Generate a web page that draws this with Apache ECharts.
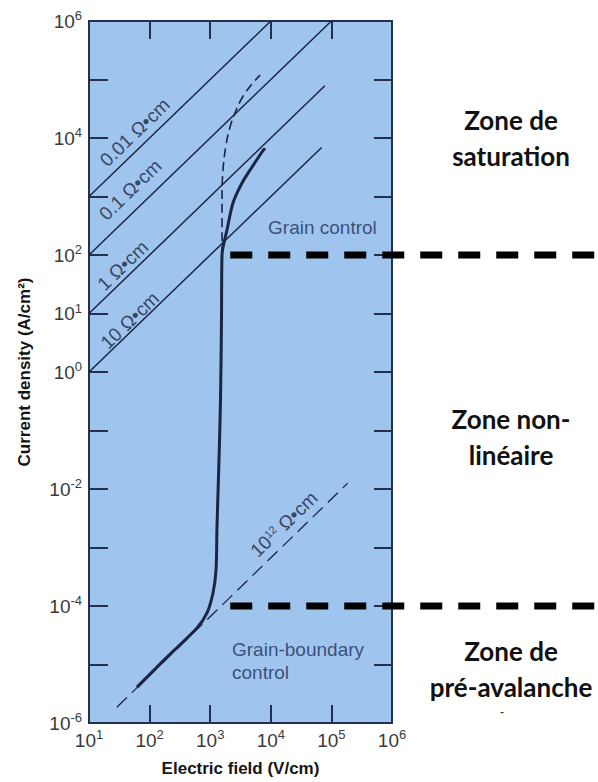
<!DOCTYPE html>
<html>
<head>
<meta charset="utf-8">
<script src="https://cdn.jsdelivr.net/npm/echarts@6/dist/echarts.min.js"></script>
<style>
html,body{margin:0;padding:0;background:#fff;}
#c{width:598px;height:782px;}
</style>
</head>
<body>
<div id="c"></div>
<script>
// ---- tick labels ----
const xLabelExps = [1, 2, 3, 4, 5, 6];
const yLabelExps = [6, 4, 2, 1, 0, -2, -4, -6];

// ---- resistivity lines  [E (V/cm), J (A/cm2)] ----
const rho001 = [[10, 1e3], [1e4, 1e6]];
const rho01 = [[10, 1e2], [1e5, 1e6]];
const rho1 = [[10, 10], [7.8e4, 7.8e4]];
const rho10 = [[10, 1], [6.9e4, 6.9e3]];
const rho1e12 = [[28.8, 1.86e-6], [1.86e5, 1.26e-2]];

// ---- main varistor curve ----
const mainCurve = [
  [62, 4.1e-6], [194, 1.34e-5], [605, 4.2e-5], [885, 7.6e-5], [1112, 1.67e-4],
  [1247, 4.1e-4], [1294, 2.2e-3], [1396, 3.1e-2], [1479, 0.33], [1535, 7.7],
  [1567, 100], [1892, 267], [2377, 774], [3350, 1700], [4900, 3190],
  [7160, 5770], [8020, 6750]
];
// ---- dashed extrapolation ----
const dashedCurve = [
  [1567, 100], [1567, 870], [1626, 2840], [1824, 7590], [2123, 15400],
  [2565, 26700], [3350, 48300], [4900, 83700], [6640, 119000]
];

// ---- zone boundaries (drawn on a wider overlay grid sharing the same scales) ----
const satBoundary = [[2140, 1e2], [2.5e9, 1e2]];
const avBoundary = [[2140, 1e-4], [2.5e9, 1e-4]];

// ---- in-plot labels [E, J, text] ----
const rhoLabels = [
  [57, 1.25e4, '0.01 Ω•cm'],
  [48, 1300, '0.1 Ω•cm'],
  [36, 66, '1 Ω•cm'],
  [47, 7.6, '10 Ω•cm'],
  [16500, 2.5e-3, '10{s|12} Ω•cm']
];
const regionLabels = [
  [9000, 290, 'Grain control'],
  [2290, 1.15e-5, 'Grain-boundary\ncontrol']
];
const zoneTexts = [
  [511, 138, 'Zone de\nsaturation'],
  [511, 437, 'Zone non-\nlinéaire'],
  [511, 669, 'Zone de\npré-avalanche']
];

const INK = '#1b2442';
const AX = '#24304f';
const FONT = 'Liberation Sans, Arial, sans-serif';

function supLabel(v, list) {
  const e = Math.round(Math.log10(v));
  if (list.indexOf(e) < 0) return '';
  return '{b|10}{s|' + e + '}';
}
const tickRich = {
  b: {fontSize: 19, lineHeight: 24, color: '#3a3a3a', fontFamily: FONT},
  s: {fontSize: 13, lineHeight: 13, verticalAlign: 'top', color: '#3a3a3a', fontFamily: FONT}
};

function lineSeries(data, width, dash, extra) {
  return Object.assign({
    type: 'line', data: data, symbol: 'none', silent: true,
    lineStyle: {color: INK, width: width, type: dash || 'solid'},
    z: 3
  }, extra || {});
}
function boundarySeries(data) {
  return {type: 'line', data: data, symbol: 'none', silent: true, z: 5,
    xAxisIndex: 2, yAxisIndex: 2, lineStyle: {color: '#000', width: 7, type: [22, 16]}};
}

const chart = echarts.init(document.getElementById('c'), null, {renderer: 'svg'});
const commonTick = {inside: true, length: 18, lineStyle: {color: AX, width: 2}};
const option = {
  animation: false,
  grid: [
    {left: 89, right: 206, top: 21, bottom: 59, show: true,
      backgroundColor: '#9fc4ee', borderColor: AX, borderWidth: 2},
    {left: 89, right: 0, top: 21, bottom: 59, show: false}
  ],
  xAxis: [
    {type: 'log', logBase: 10, min: 10, max: 1e6, interval: 1, position: 'bottom', gridIndex: 0,
      axisLine: {show: false}, axisTick: commonTick, splitLine: {show: false}, minorTick: {show: false},
      axisLabel: {margin: 5, formatter: v => supLabel(v, xLabelExps), rich: tickRich},
      name: 'Electric field (V/cm)', nameLocation: 'middle', nameGap: 37,
      nameTextStyle: {fontSize: 17, fontWeight: 'bold', color: '#151515', fontFamily: FONT}},
    {type: 'log', logBase: 10, min: 10, max: 1e6, interval: 1, position: 'top', gridIndex: 0,
      axisLine: {show: false}, axisTick: commonTick, splitLine: {show: false},
      axisLabel: {show: false}},
    {type: 'log', logBase: 10, min: 10, max: 2.5e9, gridIndex: 1,
      axisLine: {show: false}, axisTick: {show: false}, axisLabel: {show: false}, splitLine: {show: false}}
  ],
  yAxis: [
    {type: 'log', logBase: 10, min: 1e-6, max: 1e6, interval: 1, position: 'left', gridIndex: 0,
      axisLine: {show: false}, axisTick: Object.assign({}, commonTick, {length: 19}), splitLine: {show: false},
      axisLabel: {margin: 7, formatter: v => supLabel(v, yLabelExps), rich: tickRich},
      name: 'Current density (A/cm²)', nameLocation: 'middle', nameGap: 56, nameRotate: 90,
      nameTextStyle: {fontSize: 17, fontWeight: 'bold', color: '#151515', fontFamily: FONT}},
    {type: 'log', logBase: 10, min: 1e-6, max: 1e6, interval: 1, position: 'right', gridIndex: 0,
      axisLine: {show: false}, axisTick: commonTick, splitLine: {show: false},
      axisLabel: {show: false}},
    {type: 'log', logBase: 10, min: 1e-6, max: 1e6, gridIndex: 1,
      axisLine: {show: false}, axisTick: {show: false}, axisLabel: {show: false}, splitLine: {show: false}}
  ],
  series: [
    lineSeries(rho001, 1.5),
    lineSeries(rho01, 1.5),
    lineSeries(rho1, 1.5),
    lineSeries(rho10, 1.5),
    lineSeries(rho1e12, 1.3, [14, 7]),
    lineSeries(dashedCurve, 1.6, [9, 5], {smooth: 0.4}),
    lineSeries(mainCurve, 3, 'solid', {smooth: 0.3, z: 4}),
    boundarySeries(satBoundary),
    boundarySeries(avBoundary),
    {type: 'scatter', symbolSize: 0, silent: true, z: 6,
      data: rhoLabels.map(d => ({value: [d[0], d[1]], name: d[2]})),
      label: {show: true, position: 'inside', rotate: 44, formatter: p => p.name,
        fontSize: 19, color: INK, fontFamily: FONT,
        rich: {s: {fontSize: 11, lineHeight: 11, verticalAlign: 'top', color: INK, fontFamily: FONT}}}},
    {type: 'scatter', symbolSize: 0, silent: true, z: 6,
      data: regionLabels.map(d => ({value: [d[0], d[1]], name: d[2]})),
      label: {show: true, position: 'inside', align: 'left', formatter: p => p.name,
        fontSize: 19, lineHeight: 23, color: '#1f2f5c', fontFamily: FONT}}
  ],
  graphic: zoneTexts.map(t => ({
    type: 'text', x: t[0], y: t[1], silent: true,
    style: {text: t[2], fill: '#111', font: 'bold 26px Lato, "Open Sans", sans-serif',
      align: 'center', verticalAlign: 'middle', lineHeight: 36}
  })).concat([{
    type: 'text', x: 502, y: 711, silent: true,
    style: {text: '-', fill: '#333', font: 'bold 11px Lato, sans-serif', align: 'center', verticalAlign: 'middle'}
  }])
};
chart.setOption(option);
</script>
</body>
</html>
